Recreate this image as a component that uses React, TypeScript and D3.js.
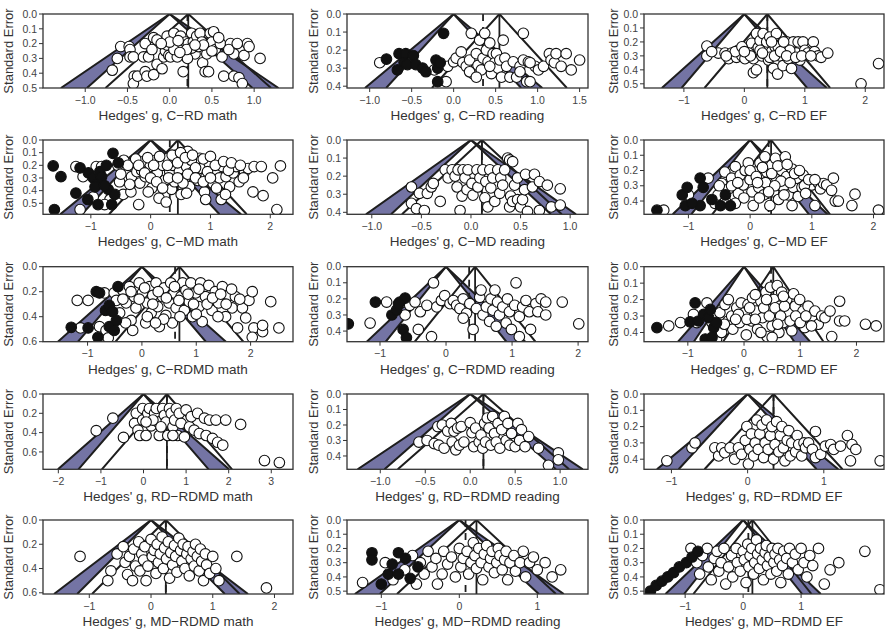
import React from 'react';
import * as d3 from 'd3';

type Pt = [number, number];

// panel order: rows C-RD, C-MD, C-RDMD, RD-RDMD, MD-RDMD; columns math, reading, EF
const panelTitles = [
  'C−RD math', 'C−RD reading', 'C−RD EF',
  'C−MD math', 'C−MD reading', 'C−MD EF',
  'C−RDMD math', 'C−RDMD reading', 'C−RDMD EF',
  'RD−RDMD math', 'RD−RDMD reading', 'RD−RDMD EF',
  'MD−RDMD math', 'MD−RDMD reading', 'MD−RDMD EF',
];
const estimates = [0.22, 0.545, 0.38, 0.455, 0.11, 0.34, 0.69, 0.44, 0.52, 0.55, 0.147, 0.34, 0.24, 0.22, 0.16];
const adjusted = [0.21, 0.35, 0.38, 0.32, 0.11, 0.3, 0.61, 0.35, 0.48, 0.55, 0.147, 0.34, 0.24, 0.08, 0.09];
const xDomains: [number, number][] = [
  [-1.5, 1.46], [-1.27, 1.6], [-1.66, 2.31],
  [-1.8, 2.38], [-1.25, 1.18], [-1.72, 2.17],
  [-1.82, 2.78], [-1.5, 2.15], [-1.78, 2.49],
  [-2.36, 3.51], [-1.37, 1.31], [-1.36, 1.79],
  [-1.75, 2.3], [-1.44, 1.65], [-1.71, 2.43],
];
const seMax = [0.5, 0.41, 0.53, 0.587, 0.411, 0.487, 0.6, 0.466, 0.456, 0.78, 0.486, 0.462, 0.61, 0.52, 0.52];
const xTicks = [
  [-1, -0.5, 0, 0.5, 1], [-1, -0.5, 0, 0.5, 1, 1.5], [-1, 0, 1, 2],
  [-1, 0, 1, 2], [-1, -0.5, 0, 0.5, 1], [-1, 0, 1, 2],
  [-1, 0, 1, 2], [-1, 0, 1, 2], [-1, 0, 1, 2],
  [-2, -1, 0, 1, 2, 3], [-1, -0.5, 0, 0.5, 1], [-1, 0, 1],
  [-1, 0, 1, 2], [-1, 0, 1], [-1, 0, 1],
];
const yTicks = [
  [0, 0.1, 0.2, 0.3, 0.4, 0.5], [0, 0.1, 0.2, 0.3, 0.4], [0, 0.1, 0.2, 0.3, 0.4, 0.5],
  [0, 0.1, 0.2, 0.3, 0.4, 0.5], [0, 0.1, 0.2, 0.3, 0.4], [0, 0.1, 0.2, 0.3, 0.4],
  [0, 0.2, 0.4, 0.6], [0, 0.1, 0.2, 0.3, 0.4], [0, 0.1, 0.2, 0.3, 0.4],
  [0, 0.2, 0.4, 0.6], [0, 0.1, 0.2, 0.3, 0.4], [0, 0.1, 0.2, 0.3, 0.4],
  [0, 0.2, 0.4, 0.6], [0, 0.1, 0.2, 0.3, 0.4, 0.5], [0, 0.1, 0.2, 0.3, 0.4, 0.5],
];

// [Hedges' g, standard error]
const crdMath: Pt[] = [
  [-0.58, 0.22], [-0.48, 0.22], [-0.47, 0.24], [-0.62, 0.3], [-0.47, 0.29], [-0.43, 0.29], [-0.68, 0.38],
  [-0.42, 0.42], [-0.43, 0.47], [-0.38, 0.42], [-0.29, 0.39], [-0.27, 0.42], [-0.31, 0.29], [-0.25, 0.29],
  [-0.29, 0.2], [-0.19, 0.16], [-0.15, 0.175], [-0.19, 0.41], [-0.15, 0.34], [-0.09, 0.37], [-0.07, 0.29],
  [-0.05, 0.25], [-0.03, 0.21], [-0.03, 0.15], [-0.01, 0.28], [0.01, 0.29], [0.04, 0.2], [0.09, 0.23],
  [0.05, 0.13], [0.13, 0.15], [0.15, 0.21], [0.17, 0.27], [0.19, 0.19], [0.22, 0.2], [0.16, 0.39],
  [0.26, 0.13], [0.28, 0.19], [0.3, 0.27], [0.32, 0.15], [0.34, 0.22], [0.36, 0.13], [0.38, 0.19],
  [0.39, 0.33], [0.42, 0.39], [0.46, 0.39], [0.44, 0.27], [0.48, 0.13], [0.5, 0.19], [0.52, 0.12],
  [0.54, 0.24], [0.6, 0.2], [0.62, 0.29], [0.64, 0.42], [0.72, 0.2], [0.76, 0.27], [0.76, 0.42],
  [0.82, 0.43], [0.86, 0.47], [0.88, 0.28], [0.92, 0.2], [0.94, 0.22], [1.07, 0.3], [0.4, 0.21],
  [0.21, 0.3], [-0.21, 0.24], [0.09, 0.29], [0.26, 0.23], [0.05, 0.24],
  [0.0, 0.19], [0.1, 0.18], [0.2, 0.24], [0.3, 0.21], [0.5, 0.25], [0.58, 0.16], [0.7, 0.24],
  [0.8, 0.2], [-0.1, 0.2], [0.12, 0.26],
];
const crdReading: Pt[] = [
  [-0.88, 0.27], [-0.55, 0.255], [-0.23, 0.31], [-0.09, 0.375], [-0.07, 0.29], [0.0, 0.265], [0.03, 0.245],
  [0.09, 0.21], [0.11, 0.27], [0.15, 0.29], [0.19, 0.255], [0.21, 0.107], [0.23, 0.33], [0.27, 0.22],
  [0.29, 0.285], [0.31, 0.145], [0.33, 0.31], [0.35, 0.245], [0.37, 0.107], [0.39, 0.2], [0.41, 0.265],
  [0.43, 0.16], [0.45, 0.33], [0.47, 0.22], [0.49, 0.27], [0.51, 0.22], [0.53, 0.3], [0.55, 0.255],
  [0.57, 0.35], [0.59, 0.145], [0.61, 0.245], [0.63, 0.29], [0.67, 0.35], [0.71, 0.265], [0.75, 0.35],
  [0.79, 0.29], [0.83, 0.255], [0.87, 0.375], [0.89, 0.265], [0.91, 0.375], [0.97, 0.29], [1.01, 0.31],
  [1.07, 0.29], [1.14, 0.22], [1.16, 0.255], [1.2, 0.27], [1.22, 0.22], [1.28, 0.29], [1.34, 0.22],
  [1.4, 0.31], [1.5, 0.255], [0.83, 0.107], [0.19, 0.32], [0.27, 0.35], [0.43, 0.29], [0.79, 0.32],
  [0.91, 0.27],
];
const crdReadingFill: Pt[] = [
  [-0.12, 0.107], [-0.65, 0.22], [-0.57, 0.22], [-0.48, 0.23], [-0.59, 0.27], [-0.67, 0.31], [-0.55, 0.28],
  [-0.45, 0.28], [-0.37, 0.3], [-0.33, 0.32], [-0.21, 0.255], [-0.19, 0.3], [-0.16, 0.27], [-0.19, 0.375],
  [-0.8, 0.25],
];
const crdEF: Pt[] = [
  [-0.62, 0.23], [-0.62, 0.3], [-0.43, 0.28], [-0.32, 0.28], [-0.26, 0.32], [-0.21, 0.28], [-0.13, 0.31],
  [-0.1, 0.26], [-0.04, 0.3], [0.01, 0.32], [0.04, 0.25], [0.09, 0.28], [0.12, 0.21], [0.15, 0.32],
  [0.18, 0.27], [0.2, 0.14], [0.23, 0.24], [0.26, 0.19], [0.29, 0.3], [0.15, 0.42], [0.2, 0.4],
  [0.31, 0.14], [0.34, 0.25], [0.37, 0.2], [0.4, 0.33], [0.42, 0.165], [0.45, 0.27], [0.48, 0.39],
  [0.51, 0.235], [0.53, 0.14], [0.55, 0.43], [0.59, 0.3], [0.62, 0.21], [0.64, 0.37], [0.67, 0.26],
  [0.7, 0.2], [0.73, 0.32], [0.78, 0.39], [0.81, 0.2], [0.86, 0.28], [0.89, 0.2], [0.92, 0.33],
  [0.97, 0.2], [1.0, 0.26], [1.05, 0.28], [1.14, 0.2], [1.16, 0.27], [1.22, 0.3], [1.27, 0.31],
  [1.38, 0.28], [1.93, 0.5], [2.22, 0.355], [-0.15, 0.27], [-0.04, 0.235], [0.07, 0.28], [0.26, 0.26],
  [0.42, 0.31], [-0.54, 0.27], [0.56, 0.235], [0.75, 0.26],
  [0.1, 0.3], [0.3, 0.28], [0.5, 0.3], [0.6, 0.27], [0.7, 0.3], [0.85, 0.31], [0.95, 0.3],
  [1.1, 0.3], [0.0, 0.27], [-0.3, 0.3], [0.45, 0.2], [0.65, 0.2],
];
const cmdMath: Pt[] = [
  [-1.25, 0.21], [-1.13, 0.29], [-1.18, 0.55], [-0.96, 0.45], [-0.91, 0.21], [-0.82, 0.21], [-0.68, 0.47],
  [-0.77, 0.51], [-0.52, 0.33], [-0.46, 0.43], [-0.33, 0.41], [-0.42, 0.24], [-0.3, 0.18], [-0.32, 0.29],
  [-0.23, 0.25], [-0.2, 0.51], [-0.18, 0.34], [-0.12, 0.17], [-0.09, 0.29], [-0.01, 0.21], [0.02, 0.38],
  [0.08, 0.16], [0.11, 0.26], [0.14, 0.46], [0.2, 0.2], [0.23, 0.32], [0.29, 0.145], [0.32, 0.25],
  [0.35, 0.39], [0.37, 0.2], [0.4, 0.33], [0.43, 0.12], [0.48, 0.25], [0.51, 0.43], [0.54, 0.17],
  [0.57, 0.3], [0.6, 0.21], [0.62, 0.09], [0.65, 0.37], [0.71, 0.25], [0.77, 0.17], [0.79, 0.32],
  [0.85, 0.225], [0.9, 0.41], [0.93, 0.28], [0.98, 0.185], [1.04, 0.34], [1.1, 0.24], [1.15, 0.3],
  [1.18, 0.47], [1.2, 0.21], [1.26, 0.29], [1.32, 0.37], [1.38, 0.26], [1.43, 0.21], [1.48, 0.33],
  [1.57, 0.25], [1.63, 0.225], [1.71, 0.41], [1.73, 0.21], [1.85, 0.21], [1.88, 0.44], [2.04, 0.3],
  [2.17, 0.205], [2.11, 0.55], [0.26, 0.49], [0.54, 0.34], [-0.04, 0.41], [0.82, 0.145], [-0.15, 0.24],
  [0.68, 0.16],
  [-0.55, 0.2], [-0.45, 0.16], [-0.38, 0.2], [-0.25, 0.15], [-0.2, 0.2], [-0.05, 0.14], [0.05, 0.2],
  [0.15, 0.13], [0.28, 0.2], [0.36, 0.12], [0.45, 0.18], [0.5, 0.1], [0.58, 0.14], [0.7, 0.12],
  [0.75, 0.22], [0.88, 0.15], [0.95, 0.25], [1.0, 0.13], [1.08, 0.2], [1.22, 0.17], [1.3, 0.24],
  [1.35, 0.18], [1.5, 0.2], [1.55, 0.3], [-0.1, 0.26], [0.0, 0.3], [0.1, 0.33], [0.3, 0.3],
  [0.45, 0.3], [0.62, 0.27], [0.75, 0.3], [0.88, 0.33], [1.0, 0.3], [0.2, 0.38], [0.6, 0.42],
  [-0.35, 0.35], [-0.5, 0.27], [1.1, 0.38], [1.25, 0.43], [0.92, 0.47],
];
const cmdMathFill: Pt[] = [
  [-1.63, 0.205], [-1.5, 0.29], [-1.61, 0.55], [-1.25, 0.42], [-1.05, 0.47], [-1.18, 0.22], [-1.04, 0.26],
  [-0.96, 0.3], [-0.88, 0.34], [-0.85, 0.25], [-0.93, 0.37], [-0.82, 0.29], [-0.74, 0.2], [-0.63, 0.105],
  [-0.71, 0.39], [-0.6, 0.43], [-0.65, 0.51], [-0.88, 0.51], [-0.54, 0.18], [-0.77, 0.36],
];
const cmdReading: Pt[] = [
  [-0.6, 0.26], [-0.52, 0.295], [-0.6, 0.35], [-0.55, 0.38], [-0.47, 0.39], [-0.44, 0.295], [-0.4, 0.26],
  [-0.38, 0.24], [-0.31, 0.34], [-0.26, 0.165], [-0.23, 0.21], [-0.19, 0.165], [-0.16, 0.2], [-0.14, 0.26],
  [-0.13, 0.165], [-0.11, 0.39], [-0.09, 0.31], [-0.08, 0.165], [-0.06, 0.21], [-0.04, 0.275], [-0.03, 0.165],
  [0.01, 0.24], [0.02, 0.305], [0.06, 0.165], [0.07, 0.26], [0.09, 0.21], [0.12, 0.165], [0.14, 0.32],
  [0.15, 0.23], [0.17, 0.37], [0.19, 0.165], [0.2, 0.265], [0.22, 0.21], [0.24, 0.34], [0.27, 0.165],
  [0.29, 0.295], [0.3, 0.21], [0.32, 0.25], [0.34, 0.165], [0.37, 0.1], [0.39, 0.11], [0.42, 0.12],
  [0.39, 0.37], [0.4, 0.31], [0.42, 0.34], [0.44, 0.25], [0.47, 0.33], [0.5, 0.37], [0.47, 0.21],
  [0.52, 0.33], [0.54, 0.275], [0.55, 0.19], [0.57, 0.395], [0.62, 0.26], [0.64, 0.19], [0.69, 0.23],
  [0.77, 0.25], [0.81, 0.37], [0.69, 0.39], [0.9, 0.36], [0.9, 0.27],
];
const cmdEF: Pt[] = [
  [-1.4, 0.46], [-1.0, 0.36], [-0.68, 0.25], [-0.57, 0.415], [-0.52, 0.36], [-0.46, 0.285], [-0.41, 0.21],
  [-0.35, 0.32], [-0.3, 0.25], [-0.24, 0.175], [-0.19, 0.35], [-0.16, 0.23], [-0.11, 0.295], [-0.08, 0.2],
  [-0.03, 0.15], [0.0, 0.26], [0.03, 0.34], [0.05, 0.43], [0.08, 0.21], [0.14, 0.31], [0.16, 0.15],
  [0.19, 0.25], [0.22, 0.36], [0.24, 0.11], [0.27, 0.21], [0.3, 0.285], [0.32, 0.43], [0.35, 0.165],
  [0.38, 0.34], [0.41, 0.12], [0.43, 0.25], [0.46, 0.39], [0.51, 0.2], [0.54, 0.31], [0.57, 0.11],
  [0.59, 0.24], [0.62, 0.36], [0.68, 0.19], [0.7, 0.31], [0.76, 0.25], [0.78, 0.37], [0.84, 0.31],
  [0.86, 0.23], [0.92, 0.285], [1.0, 0.295], [1.05, 0.43], [1.11, 0.285], [1.14, 0.32], [1.19, 0.285],
  [1.24, 0.295], [1.35, 0.25], [1.32, 0.33], [1.38, 0.4], [1.43, 0.4], [1.7, 0.355], [1.65, 0.43],
  [2.08, 0.46], [-0.24, 0.415], [0.68, 0.43],
  [-0.3, 0.3], [-0.2, 0.28], [0.0, 0.2], [0.1, 0.24], [0.2, 0.18], [0.25, 0.28], [0.35, 0.22],
  [0.45, 0.17], [0.5, 0.27], [0.6, 0.16], [0.65, 0.28], [0.72, 0.22], [0.8, 0.2], [0.88, 0.3],
  [0.95, 0.26], [1.05, 0.26], [0.4, 0.3], [0.15, 0.38], [-0.1, 0.38], [0.55, 0.36], [0.9, 0.35],
  [-0.4, 0.4], [-0.5, 0.3], [0.3, 0.34], [0.12, 0.28],
];
const cmdEFFill: Pt[] = [
  [-1.51, 0.46], [-1.1, 0.36], [-1.02, 0.31], [-0.81, 0.25], [-0.76, 0.31], [-1.05, 0.43], [-0.81, 0.43],
  [-0.62, 0.39], [-0.48, 0.43], [-0.4, 0.36], [-0.32, 0.43], [-0.94, 0.415],
];
const crdmdMath: Pt[] = [
  [-1.19, 0.27], [-0.99, 0.27], [-1.13, 0.49], [-0.69, 0.21], [-0.78, 0.48], [-0.66, 0.51], [-0.62, 0.57],
  [-0.51, 0.21], [-0.47, 0.27], [-0.41, 0.37], [-0.35, 0.19], [-0.29, 0.29], [-0.23, 0.16], [-0.2, 0.43],
  [-0.17, 0.51], [-0.14, 0.24], [-0.11, 0.33], [-0.05, 0.13], [0.01, 0.21], [0.07, 0.45], [0.1, 0.29],
  [0.14, 0.16], [0.17, 0.37], [0.2, 0.23], [0.26, 0.13], [0.29, 0.32], [0.32, 0.48], [0.38, 0.24],
  [0.41, 0.17], [0.44, 0.39], [0.5, 0.29], [0.53, 0.13], [0.56, 0.45], [0.59, 0.21], [0.63, 0.33],
  [0.72, 0.24], [0.75, 0.13], [0.78, 0.35], [0.81, 0.19], [0.87, 0.28], [0.9, 0.13], [0.93, 0.4],
  [0.99, 0.21], [1.05, 0.32], [1.08, 0.13], [1.11, 0.44], [1.17, 0.24], [1.23, 0.15], [1.29, 0.35],
  [1.35, 0.2], [1.41, 0.29], [1.48, 0.16], [1.54, 0.4], [1.6, 0.23], [1.66, 0.33], [1.72, 0.24],
  [1.76, 0.49], [1.85, 0.33], [1.91, 0.41], [1.97, 0.27], [2.03, 0.2], [2.06, 0.49], [2.03, 0.565],
  [2.22, 0.52], [2.22, 0.47], [2.37, 0.28], [2.52, 0.49],
  [-0.35, 0.26], [-0.2, 0.2], [-0.05, 0.26], [0.05, 0.17], [0.2, 0.3], [0.3, 0.2], [0.45, 0.25],
  [0.6, 0.16], [0.68, 0.27], [0.85, 0.22], [0.95, 0.3], [1.05, 0.18], [1.2, 0.3], [1.3, 0.25],
  [1.45, 0.22], [1.55, 0.3], [1.65, 0.18], [1.8, 0.26], [0.1, 0.4], [0.4, 0.42], [0.7, 0.4],
  [1.0, 0.38], [1.4, 0.4], [-0.3, 0.45], [0.25, 0.45],
];
const crdmdMathFill: Pt[] = [
  [-1.3, 0.485], [-0.84, 0.2], [-0.78, 0.21], [-0.67, 0.35], [-0.6, 0.31], [-0.54, 0.36], [-0.44, 0.16],
  [-0.6, 0.48], [-0.51, 0.51], [-0.81, 0.565], [-0.99, 0.49], [-0.47, 0.43],
];
const crdmdReading: Pt[] = [
  [-1.15, 0.35], [-0.9, 0.22], [-0.65, 0.22], [-0.62, 0.3], [-0.55, 0.24], [-0.47, 0.22], [-0.42, 0.39],
  [-0.39, 0.28], [-0.29, 0.24], [-0.22, 0.435], [-0.19, 0.1], [-0.14, 0.25], [-0.07, 0.21], [-0.02, 0.18],
  [0.06, 0.23], [0.11, 0.21], [0.16, 0.24], [0.21, 0.26], [0.26, 0.2], [0.31, 0.29], [0.36, 0.23],
  [0.41, 0.39], [0.46, 0.26], [0.51, 0.19], [0.53, 0.145], [0.56, 0.3], [0.61, 0.25], [0.66, 0.34],
  [0.68, 0.2], [0.71, 0.27], [0.76, 0.37], [0.78, 0.22], [0.81, 0.3], [0.86, 0.25], [0.91, 0.35],
  [0.93, 0.2], [0.96, 0.28], [0.99, 0.39], [1.04, 0.24], [1.06, 0.1], [1.11, 0.31], [1.16, 0.25],
  [1.21, 0.21], [1.26, 0.28], [1.28, 0.39], [1.36, 0.23], [1.39, 0.28], [1.44, 0.2], [1.51, 0.22],
  [1.51, 0.3], [1.76, 0.22], [2.01, 0.355], [1.11, 0.435], [0.74, 0.145], [0.26, 0.32],
];
const crdmdReadingFill: Pt[] = [
  [-1.48, 0.355], [-1.07, 0.22], [-0.82, 0.3], [-0.75, 0.27], [-0.7, 0.22], [-0.62, 0.195], [-0.65, 0.39],
  [-0.6, 0.44], [-0.72, 0.23],
];
const crdmdEF: Pt[] = [
  [-1.34, 0.36], [-1.13, 0.34], [-0.9, 0.29], [-0.84, 0.34], [-0.66, 0.22], [-0.57, 0.34], [-0.49, 0.44],
  [-0.43, 0.28], [-0.4, 0.4], [-0.34, 0.23], [-0.28, 0.2], [-0.28, 0.33], [-0.22, 0.3], [-0.2, 0.38],
  [-0.13, 0.25], [-0.08, 0.34], [-0.05, 0.22], [0.01, 0.28], [0.04, 0.415], [0.07, 0.23], [0.13, 0.33],
  [0.15, 0.19], [0.21, 0.27], [0.24, 0.38], [0.3, 0.21], [0.33, 0.31], [0.39, 0.155], [0.41, 0.425],
  [0.44, 0.26], [0.47, 0.125], [0.5, 0.36], [0.53, 0.2], [0.56, 0.3], [0.59, 0.115], [0.62, 0.4],
  [0.64, 0.24], [0.67, 0.155], [0.7, 0.34], [0.76, 0.2], [0.79, 0.28], [0.85, 0.39], [0.88, 0.165],
  [0.91, 0.24], [0.96, 0.32], [0.99, 0.2], [1.05, 0.27], [1.08, 0.37], [1.14, 0.24], [1.2, 0.31],
  [1.26, 0.27], [1.32, 0.35], [1.38, 0.3], [1.44, 0.31], [1.53, 0.27], [1.56, 0.425], [1.7, 0.21],
  [1.7, 0.33], [1.79, 0.33], [2.16, 0.35], [2.35, 0.36],
  [-0.1, 0.29], [0.05, 0.32], [0.1, 0.25], [0.2, 0.32], [0.35, 0.25], [0.45, 0.3], [0.55, 0.25],
  [0.65, 0.3], [0.72, 0.24], [0.82, 0.33], [0.92, 0.3], [1.0, 0.34], [1.1, 0.3], [0.3, 0.4],
  [0.6, 0.35], [0.4, 0.2], [0.7, 0.18], [0.2, 0.17], [-0.15, 0.32], [-0.35, 0.35], [1.2, 0.36],
  [0.5, 0.43],
];
const crdmdEFFill: Pt[] = [
  [-1.55, 0.37], [-0.87, 0.22], [-0.96, 0.335], [-0.81, 0.33], [-0.72, 0.29], [-0.63, 0.31], [-0.54, 0.37],
  [-0.69, 0.44], [-0.57, 0.43], [-0.49, 0.34], [-0.6, 0.26],
];
const rdrdmdMath: Pt[] = [
  [-1.11, 0.38], [-0.72, 0.25], [-0.47, 0.45], [-0.17, 0.2], [-0.21, 0.305], [-0.13, 0.375], [-0.09, 0.43],
  [-0.02, 0.15], [-0.02, 0.27], [0.06, 0.43], [0.1, 0.2], [0.14, 0.15], [0.18, 0.33], [0.26, 0.2],
  [0.3, 0.15], [0.34, 0.29], [0.37, 0.43], [0.45, 0.15], [0.49, 0.22], [0.53, 0.29], [0.57, 0.43],
  [0.61, 0.15], [0.65, 0.2], [0.69, 0.34], [0.73, 0.27], [0.77, 0.15], [0.8, 0.43], [0.84, 0.2],
  [0.88, 0.305], [0.96, 0.445], [1.0, 0.165], [1.08, 0.34], [1.12, 0.235], [1.19, 0.375], [1.27, 0.2],
  [1.31, 0.41], [1.43, 0.25], [1.47, 0.43], [1.55, 0.27], [1.62, 0.46], [1.7, 0.27], [1.74, 0.5],
  [1.86, 0.53], [1.93, 0.27], [2.28, 0.315], [2.84, 0.69], [3.19, 0.71], [0.22, 0.27], [0.41, 0.34],
  [0.69, 0.43], [0.06, 0.29],
];
const rdrdmdReading: Pt[] = [
  [-0.57, 0.31], [-0.48, 0.3], [-0.4, 0.32], [-0.36, 0.21], [-0.35, 0.33], [-0.31, 0.2], [-0.29, 0.35],
  [-0.25, 0.24], [-0.21, 0.19], [-0.2, 0.31], [-0.18, 0.24], [-0.16, 0.36], [-0.14, 0.22], [-0.12, 0.33],
  [-0.1, 0.21], [-0.07, 0.31], [0.0, 0.185], [0.02, 0.25], [0.04, 0.34], [0.06, 0.22], [0.1, 0.31],
  [0.12, 0.265], [0.14, 0.35], [0.16, 0.19], [0.17, 0.31], [0.19, 0.155], [0.21, 0.22], [0.23, 0.33],
  [0.25, 0.145], [0.27, 0.255], [0.29, 0.31], [0.31, 0.19], [0.33, 0.35], [0.35, 0.23], [0.38, 0.145],
  [0.4, 0.3], [0.42, 0.19], [0.44, 0.33], [0.46, 0.255], [0.5, 0.34], [0.53, 0.19], [0.55, 0.3],
  [0.57, 0.23], [0.61, 0.34], [0.65, 0.275], [0.76, 0.35], [0.87, 0.46], [0.98, 0.38], [0.98, 0.425],
];
const rdrdmdEF: Pt[] = [
  [-1.06, 0.41], [-0.73, 0.33], [-0.69, 0.3], [-0.43, 0.33], [-0.38, 0.38], [-0.34, 0.33], [-0.3, 0.36],
  [-0.23, 0.33], [-0.17, 0.4], [-0.12, 0.33], [-0.08, 0.37], [-0.03, 0.285], [-0.01, 0.2], [0.01, 0.43],
  [0.03, 0.34], [0.05, 0.245], [0.08, 0.38], [0.1, 0.3], [0.12, 0.16], [0.14, 0.34], [0.16, 0.245],
  [0.19, 0.19], [0.21, 0.39], [0.23, 0.3], [0.25, 0.16], [0.27, 0.34], [0.3, 0.255], [0.32, 0.2],
  [0.34, 0.4], [0.36, 0.31], [0.38, 0.17], [0.41, 0.355], [0.43, 0.255], [0.45, 0.2], [0.47, 0.33],
  [0.49, 0.41], [0.52, 0.285], [0.54, 0.225], [0.56, 0.38], [0.58, 0.3], [0.63, 0.355], [0.65, 0.255],
  [0.67, 0.31], [0.71, 0.38], [0.74, 0.3], [0.76, 0.33], [0.8, 0.3], [0.85, 0.34], [0.89, 0.23],
  [0.89, 0.39], [0.96, 0.37], [1.02, 0.32], [1.09, 0.31], [1.13, 0.34], [1.22, 0.32], [1.31, 0.255],
  [1.37, 0.31], [1.42, 0.34], [1.35, 0.41], [1.74, 0.41],
];
const mdrdmdMath: Pt[] = [
  [-0.55, 0.28], [-0.45, 0.22], [-0.42, 0.35], [-0.38, 0.45], [-0.35, 0.3], [-0.3, 0.5], [-0.28, 0.24],
  [-0.25, 0.38], [-0.2, 0.18], [-0.18, 0.42], [-0.15, 0.28], [-0.12, 0.33], [-0.1, 0.22], [-0.08, 0.5],
  [-0.05, 0.38], [0.0, 0.16], [0.02, 0.3], [0.05, 0.25], [0.08, 0.44], [0.1, 0.2], [0.12, 0.35],
  [0.15, 0.28], [0.18, 0.14], [0.2, 0.4], [0.22, 0.23], [0.25, 0.32], [0.28, 0.18], [0.3, 0.48],
  [0.32, 0.27], [0.35, 0.37], [0.38, 0.21], [0.4, 0.3], [0.42, 0.43], [0.45, 0.15], [0.48, 0.25],
  [0.5, 0.34], [0.52, 0.2], [0.55, 0.4], [0.58, 0.28], [0.6, 0.22], [0.62, 0.46], [0.65, 0.32],
  [0.68, 0.26], [0.7, 0.38], [0.72, 0.2], [0.75, 0.3], [0.78, 0.42], [0.8, 0.24], [0.82, 0.34],
  [0.85, 0.5], [0.88, 0.28], [0.9, 0.37], [0.95, 0.44], [1.0, 0.3], [1.05, 0.4], [1.1, 0.5],
  [-1.15, 0.3], [1.39, 0.3], [1.87, 0.56], [-0.65, 0.42], [-0.7, 0.5],
];
const mdrdmdReading: Pt[] = [
  [-1.24, 0.44], [-0.95, 0.3], [-0.85, 0.42], [-0.7, 0.35], [-0.6, 0.25], [-0.55, 0.45], [-0.5, 0.3],
  [-0.45, 0.38], [-0.4, 0.22], [-0.35, 0.33], [-0.3, 0.27], [-0.28, 0.45], [-0.22, 0.38], [-0.2, 0.22],
  [-0.15, 0.31], [-0.1, 0.26], [-0.05, 0.4], [0.0, 0.2], [0.02, 0.33], [0.05, 0.27], [0.1, 0.22],
  [0.12, 0.38], [0.15, 0.3], [0.18, 0.16], [0.2, 0.25], [0.22, 0.34], [0.25, 0.2], [0.28, 0.3],
  [0.3, 0.42], [0.32, 0.24], [0.35, 0.18], [0.38, 0.33], [0.4, 0.27], [0.42, 0.22], [0.45, 0.37],
  [0.48, 0.3], [0.5, 0.2], [0.52, 0.25], [0.55, 0.35], [0.58, 0.28], [0.6, 0.22], [0.62, 0.42],
  [0.65, 0.3], [0.7, 0.25], [0.72, 0.36], [0.78, 0.3], [0.82, 0.22], [0.85, 0.4], [0.9, 0.3],
  [0.95, 0.26], [1.0, 0.35], [1.1, 0.3], [1.19, 0.4], [1.3, 0.35],
];
const mdrdmdReadingFill: Pt[] = [
  [-1.12, 0.23], [-1.12, 0.28], [-1.0, 0.45], [-0.91, 0.38], [-0.86, 0.31], [-0.78, 0.38], [-0.78, 0.23],
  [-0.69, 0.27], [-0.63, 0.41], [-0.53, 0.33],
];
const mdrdmdEF: Pt[] = [
  [-0.9, 0.2], [-0.8, 0.3], [-0.75, 0.38], [-0.7, 0.25], [-0.62, 0.2], [-0.6, 0.33], [-0.55, 0.42],
  [-0.5, 0.27], [-0.45, 0.22], [-0.42, 0.36], [-0.38, 0.3], [-0.33, 0.2], [-0.3, 0.45], [-0.25, 0.33],
  [-0.2, 0.25], [-0.18, 0.4], [-0.12, 0.2], [-0.1, 0.3], [-0.05, 0.36], [0.0, 0.22], [0.02, 0.28],
  [0.05, 0.44], [0.08, 0.17], [0.1, 0.33], [0.12, 0.25], [0.15, 0.2], [0.18, 0.38], [0.2, 0.3],
  [0.23, 0.14], [0.25, 0.24], [0.28, 0.34], [0.3, 0.2], [0.33, 0.28], [0.35, 0.42], [0.38, 0.23],
  [0.4, 0.18], [0.42, 0.32], [0.45, 0.26], [0.48, 0.38], [0.5, 0.2], [0.53, 0.3], [0.55, 0.24],
  [0.58, 0.36], [0.6, 0.2], [0.63, 0.28], [0.65, 0.44], [0.68, 0.32], [0.7, 0.22], [0.75, 0.27],
  [0.78, 0.38], [0.8, 0.2], [0.85, 0.3], [0.9, 0.24], [0.95, 0.35], [1.0, 0.2], [1.05, 0.3],
  [1.1, 0.4], [1.15, 0.25], [1.2, 0.32], [1.3, 0.2], [1.4, 0.45], [1.5, 0.35], [1.65, 0.3],
  [2.36, 0.49], [2.1, 0.22],
];
const mdrdmdEFFill: Pt[] = [
  [-1.6, 0.5], [-1.5, 0.46], [-1.4, 0.43], [-1.3, 0.4], [-1.2, 0.37], [-1.1, 0.33], [-0.98, 0.3],
  [-0.88, 0.26], [-0.78, 0.22],
];

const openPoints: Pt[][] = [
  crdMath, crdReading, crdEF,
  cmdMath, cmdReading, cmdEF,
  crdmdMath, crdmdReading, crdmdEF,
  rdrdmdMath, rdrdmdReading, rdrdmdEF,
  mdrdmdMath, mdrdmdReading, mdrdmdEF,
];
const filledPoints: Pt[][] = [
  [], crdReadingFill, [],
  cmdMathFill, [], cmdEFFill,
  crdmdMathFill, crdmdReadingFill, crdmdEFFill,
  [], [], [],
  [], mdrdmdReadingFill, mdrdmdEFFill,
];

// layout (pixels)
const W = 887;
const H = 631;
const colLeft = [43, 347, 644];
const colRight = [293, 588, 884];
const rowTop = [14, 140, 266.7, 394, 520];
const rowBottom = [88, 214.3, 341.7, 469.3, 594];
const yLabelX = [13, 318, 618];
const FONT = 'Liberation Sans, Arial, sans-serif';
const BAND = '#7474a4';
const INK = '#1e1e1e';

const Z1 = 1.96;
const Z2 = 2.576;

function Panel({ i }: { i: number }) {
  const col = i % 3;
  const row = Math.floor(i / 3);
  const x0 = colLeft[col];
  const x1 = colRight[col];
  const y0 = rowTop[row];
  const y1 = rowBottom[row];
  const s = seMax[i];
  const x = d3.scaleLinear().domain(xDomains[i]).range([x0, x1]);
  const y = d3.scaleLinear().domain([0, s]).range([y0, y1]);
  const line = d3.line<Pt>().x((d) => x(d[0])).y((d) => y(d[1]));
  const est = estimates[i];
  const adj = adjusted[i];
  const clip = `clip-${i}`;
  const half = xTicks[i].some((t) => !Number.isInteger(t));
  const fx = half ? d3.format('.1f') : d3.format('d');
  const fy = d3.format('.1f');

  const bandL = line([[0, 0], [-Z2 * s, s], [-Z1 * s, s]]) + 'Z';
  const bandR = line([[0, 0], [Z1 * s, s], [Z2 * s, s]]) + 'Z';
  const funnel = [
    [[-Z2 * s, s], [0, 0], [Z2 * s, s]],
    [[-Z1 * s, s], [0, 0], [Z1 * s, s]],
    [[est - Z1 * s, s], [est, 0], [est + Z1 * s, s]],
  ] as Pt[][];

  return (
    <g>
      <defs>
        <clipPath id={clip}>
          <rect x={x0} y={y0} width={x1 - x0} height={y1 - y0} />
        </clipPath>
      </defs>
      <g clipPath={`url(#${clip})`}>
        <path d={bandL} fill={BAND} />
        <path d={bandR} fill={BAND} />
        {funnel.map((f, k) => (
          <path key={k} d={line(f) || ''} fill="none" stroke={INK} strokeWidth={2} strokeLinejoin="miter" />
        ))}
        <line x1={x(adj)} x2={x(adj)} y1={y(0)} y2={y(s)} stroke={INK} strokeWidth={1.8} strokeDasharray="7,6" />
        <line x1={x(est)} x2={x(est)} y1={y(0)} y2={y(s)} stroke={INK} strokeWidth={1.8} />
        {openPoints[i].map((d, k) => (
          <circle key={'o' + k} cx={x(d[0])} cy={y(d[1])} r={5.3} fill="#fff" stroke="#111" strokeWidth={1.1} />
        ))}
        {filledPoints[i].map((d, k) => (
          <circle key={'f' + k} cx={x(d[0])} cy={y(d[1])} r={5.3} fill="#111" stroke="#111" strokeWidth={1.1} />
        ))}
      </g>
      <rect x={x0} y={y0} width={x1 - x0} height={y1 - y0} fill="none" stroke="#333" strokeWidth={1.3} />
      {xTicks[i].map((t) => (
        <g key={'x' + t}>
          <line x1={x(t)} x2={x(t)} y1={y1} y2={y1 + 4} stroke="#333" strokeWidth={1} />
          <text x={x(t)} y={y1 + 15.5} textAnchor="middle" fontSize={10.5} fill="#444" fontFamily={FONT}>
            {fx(t)}
          </text>
        </g>
      ))}
      {yTicks[i].map((t) => (
        <g key={'y' + t}>
          <line x1={x0 - 4} x2={x0} y1={y(t)} y2={y(t)} stroke="#333" strokeWidth={1} />
          <text x={x0 - 6} y={y(t) + 3.7} textAnchor="end" fontSize={10.5} fill="#444" fontFamily={FONT}>
            {fy(t)}
          </text>
        </g>
      ))}
      <text x={(x0 + x1) / 2} y={y1 + 32} textAnchor="middle" fontSize={13.5} fill="#333" fontFamily={FONT}>
        {`Hedges' g, ${panelTitles[i]}`}
      </text>
      <text
        transform={`translate(${yLabelX[col]},${(y0 + y1) / 2}) rotate(-90)`}
        textAnchor="middle"
        fontSize={13}
        fill="#333"
        fontFamily={FONT}
      >
        Standard Error
      </text>
    </g>
  );
}

export default function App() {
  return (
    <svg
      width={W}
      height={H}
      viewBox={`0 0 ${W} ${H}`}
      style={{ position: 'absolute', left: 0, top: 0, background: '#fff' }}
    >
      {panelTitles.map((_, i) => (
        <Panel key={i} i={i} />
      ))}
    </svg>
  );
}
